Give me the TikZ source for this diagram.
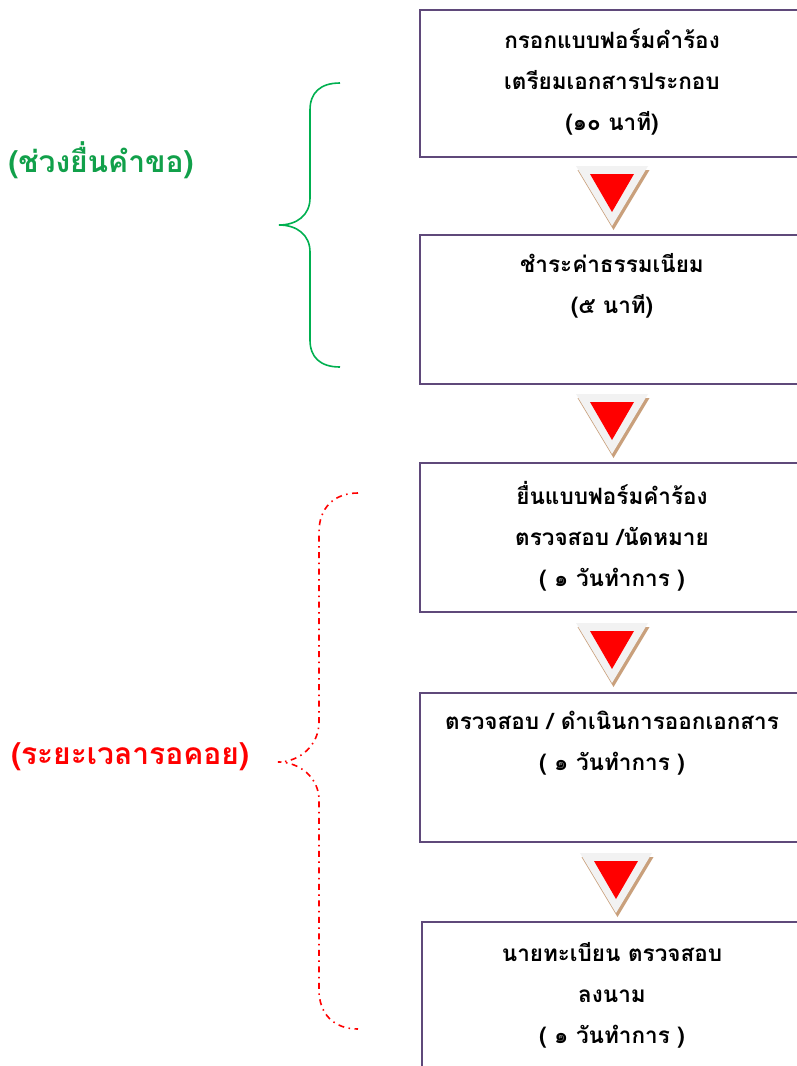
\documentclass[tikz,border=0pt]{standalone}
\usepackage{fontspec}
\newfontfamily\thai[Script=Thai]{Loma}
\definecolor{boxline}{HTML}{5F497A}
\definecolor{shadowtan}{HTML}{C9A07C}
\definecolor{markgray}{HTML}{F2F2F2}
\definecolor{bracegreen}{HTML}{00B050}
\definecolor{labelgreen}{HTML}{11A04A}
\tikzset{
  stepbox/.style={draw=boxline, line width=2pt, anchor=north west,
    minimum width=400pt, inner sep=0pt},
  boxtext/.style={align=center, text=black,
    font=\thai\bfseries\fontsize{22.5}{41}\selectfont},
  sidelabel/.style={font=\thai\bfseries\fontsize{30}{34}\selectfont},
  downmark/.pic={
    \fill[shadowtan] (-34.5,4) -- (37.5,4) -- (1.5,64) -- cycle;
    \fill[markgray] (-36,0) -- (36,0) -- (0,60) -- cycle;
    \fill[red] (-22,8) -- (22,8) -- (0,46) -- cycle;
  },
  solidbrace/.style={draw=bracegreen, line width=1.6pt},
  dotbrace/.style={draw=red, line width=1.6pt,
    dash pattern=on 6pt off 4.5pt on 1.5pt off 4.5pt},
}
\begin{document}
\begin{tikzpicture}[x=1pt, y=-1pt]
  \useasboundingbox (0,0) rectangle (797,1066);
  \fill[white] (0,0) rectangle (797,1066);
  \clip (0,0) rectangle (797,1066);

  % process steps
  \node[stepbox, minimum height=147pt] (b1) at (419,9) {};
  \node[stepbox, minimum height=149pt] (b2) at (419,234) {};
  \node[stepbox, minimum height=149pt] (b3) at (419,462) {};
  \node[stepbox, minimum height=149pt] (b4) at (419,692) {};
  \node[stepbox, minimum height=170pt] (b5) at (421,921) {};

  \node[boxtext] (t1) at (612,82) {กรอกแบบฟอร์มคำร้อง\\เตรียมเอกสารประกอบ\\(๑๐ นาที)};
  \node[boxtext] (t2) at (612,286) {ชำระค่าธรรมเนียม\\(๕ นาที)};
  \node[boxtext] (t3) at (612,536) {ยื่นแบบฟอร์มคำร้อง\\ตรวจสอบ /นัดหมาย\\( ๑ วันทำการ )};
  \node[boxtext] (t4) at (612,743) {ตรวจสอบ / ดำเนินการออกเอกสาร\\( ๑ วันทำการ )};
  \node[boxtext] (t5) at (612,995) {นายทะเบียน ตรวจสอบ\\ลงนาม\\( ๑ วันทำการ )};

  % downward markers between steps
  \pic (m1) at (612,166) {downmark};
  \pic (m2) at (612,394) {downmark};
  \pic (m3) at (612,623) {downmark};
  \pic (m4) at (616,853) {downmark};

  % phase labels
  \node[sidelabel, text=labelgreen] (l1) at (101,160) {(ช่วงยื่นคำขอ)};
  \node[sidelabel, text=red] (l2) at (130,757) {(ระยะเวลารอคอย)};

  % braces
  \coordinate (g1) at (340,83);
  \coordinate (g2) at (279,225);
  \coordinate (g3) at (340,367);
  \draw[solidbrace] (g1) .. controls (320,83) and (310,93) .. (310,110)
    -- (310,198) .. controls (310,215) and (297,225) .. (g2)
    .. controls (297,225) and (310,235) .. (310,252)
    -- (310,340) .. controls (310,357) and (320,367) .. (g3);

  \coordinate (r1) at (358,493);
  \coordinate (r2) at (278,762);
  \coordinate (r3) at (358,1029);
  \draw[dotbrace] (r1) .. controls (334,493) and (319,508) .. (319,532)
    -- (319,722) .. controls (319,745) and (300,762) .. (r2)
    .. controls (300,762) and (319,778) .. (319,800)
    -- (319,990) .. controls (319,1014) and (334,1029) .. (r3);
\end{tikzpicture}
\end{document}
